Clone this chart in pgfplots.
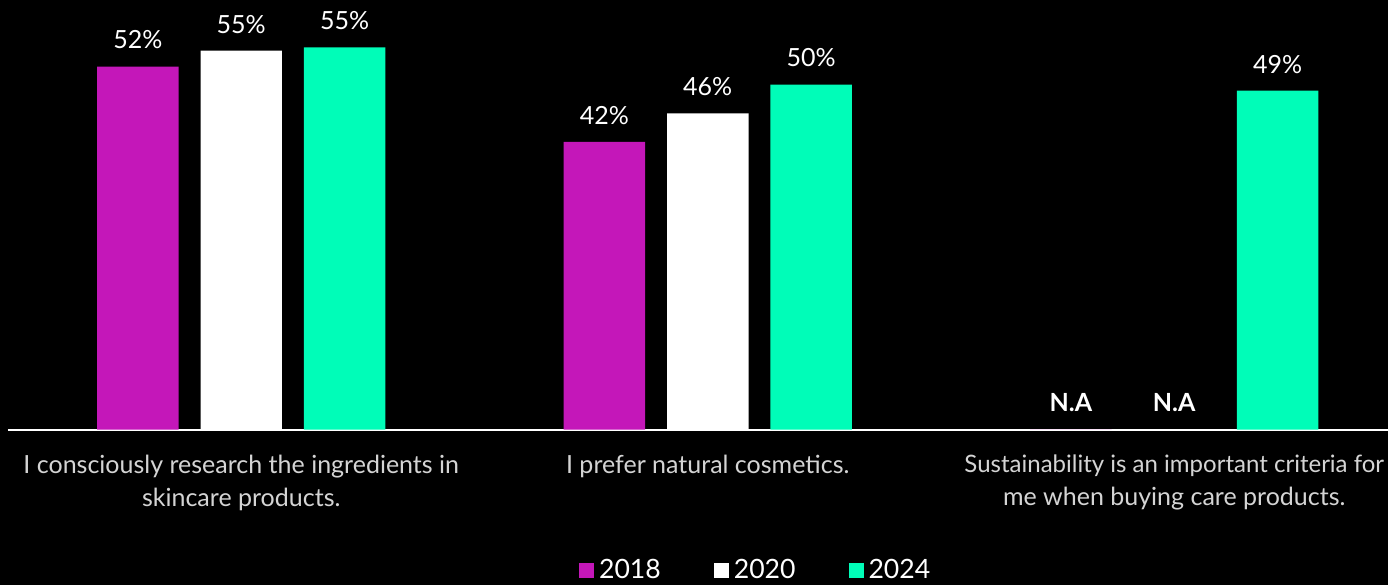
\documentclass[border=0pt]{standalone}
\usepackage{pgfplots}
\pgfplotsset{compat=1.18}
\usepackage{fontspec}
\setmainfont{Lato}
\definecolor{mag}{HTML}{C417B9}
\definecolor{mint}{HTML}{00FDB8}
\definecolor{lblgray}{HTML}{D4D4D4}
\newcommand{\NA}{\textbf{N.A}}
\begin{document}
\begin{tikzpicture}
\fill[black] (0,0) rectangle (694pt,292.5pt);
\begin{axis}[
  at={(4pt,77.75pt)}, anchor=south west,
  scale only axis, width=699.75pt, height=207pt,
  xmin=-0.5, xmax=2.5, ymin=0, ymax=60,
  axis y line=none, axis x line*=bottom,
  x axis line style={-, white, line width=1pt},
  xtick={0,1,2},
  xticklabels={{I consciously research the ingredients in\\skincare products.},
               {I prefer natural cosmetics.},
               {\fontsize{12}{16.3}\selectfont Sustainability is an important criteria for\\me when buying care products.}},
  major tick length=0pt,
  xticklabel style={align=center, text=lblgray, font=\fontsize{12.5}{16.3}\selectfont, inner sep=0pt, anchor=north, yshift=-12.6pt},
  ytick=\empty,
  ybar, bar width=0.1747,
  nodes near coords, point meta=explicit symbolic,
  every node near coord/.append style={white, font=\fontsize{12.5}{14}\selectfont, anchor=south, inner sep=0pt, yshift=8.5pt},
  clip=false,
  legend columns=3,
  legend style={at={(axis cs:1.106,-20.4)}, anchor=center, draw=none, fill=none,
    text=white, font=\fontsize{13.3}{14}\selectfont,
    nodes={inner xsep=2.5pt},
    /tikz/every even column/.append style={column sep=24pt}},
  legend image code/.code={\fill[#1] (0pt,-3.75pt) rectangle (7.5pt,3.75pt);},
]
\addplot[fill=mag, draw=none, bar shift=-0.2214] table[meta=label] {
x y label
0 52.6 52\%
1 41.7 42\%
2 0 \NA
};
\addplot[fill=white, draw=none, bar shift=0] table[meta=label] {
x y label
0 54.9 55\%
1 45.8 46\%
2 0 \NA
};
\addplot[fill=mint, draw=none, bar shift=0.2214] table[meta=label] {
x y label
0 55.4 55\%
1 50.0 50\%
2 49.1 49\%
};
\legend{2018,2020,2024}
\end{axis}
\pgfresetboundingbox
\useasboundingbox (0,0) rectangle (694pt,292.5pt);
\end{tikzpicture}
\end{document}
